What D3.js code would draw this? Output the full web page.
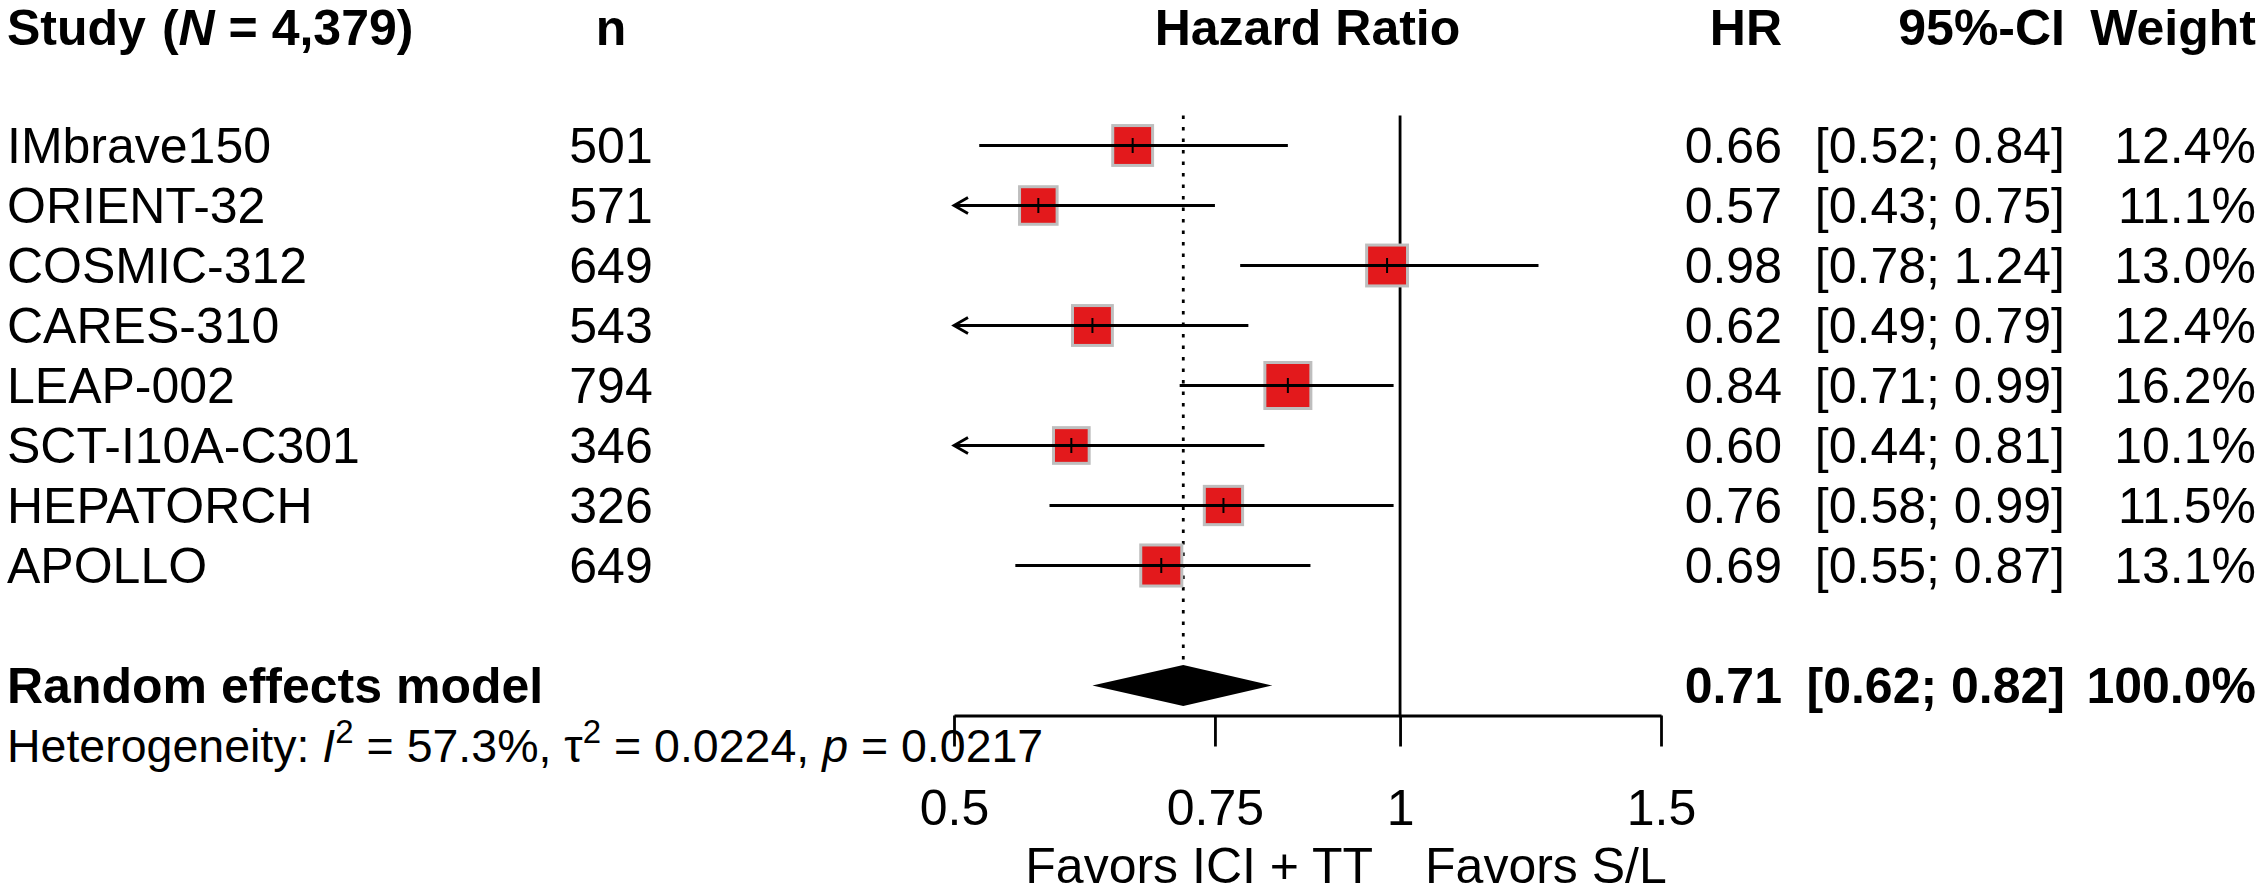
<!DOCTYPE html>
<html>
<head>
<meta charset="utf-8">
<script src="https://cdn.jsdelivr.net/npm/d3@7"></script>
<style>
  body { margin: 0; background: #fff; }
  svg { display: block; font-family: "Liberation Sans", Arial, sans-serif; }
  text { fill: #000; }
</style>
</head>
<body>
<div id="chart"></div>
<script>
// study level data
const studies = ['IMbrave150', 'ORIENT-32', 'COSMIC-312', 'CARES-310', 'LEAP-002', 'SCT-I10A-C301', 'HEPATORCH', 'APOLLO'];
const nPatients = [501, 571, 649, 543, 794, 346, 326, 649];
const hr = [0.66, 0.57, 0.98, 0.62, 0.84, 0.60, 0.76, 0.69];
const lower = [0.52, 0.43, 0.78, 0.49, 0.71, 0.44, 0.58, 0.55];
const upper = [0.84, 0.75, 1.24, 0.79, 0.99, 0.81, 0.99, 0.87];
const weights = [12.4, 11.1, 13.0, 12.4, 16.2, 10.1, 11.5, 13.1];

// pooled estimate
const pooled = {label: 'Random effects model', hr: 0.714, lower: 0.62, upper: 0.82, weight: 100.0};
const heterogeneity = {i2: '57.3%', tau2: '0.0224', p: '0.0217'};

const axisTicks = [0.5, 0.75, 1, 1.5];
const axisTickLabels = ['0.5', '0.75', '1', '1.5'];
const labelLeft = 'Favors ICI + TT';
const labelRight = 'Favors S/L';

const config = {
  width: 2262,
  height: 895,
  fontSize: 50,
  hetFontSize: 46.5,
  red: '#E3191C',
  border: '#BEBEBE',
  lw: 2.8
};

const svg = d3.select('#chart').append('svg')
    .attr('width', config.width)
    .attr('height', config.height);

const x = d3.scaleLog()
    .domain([0.5, 1.5])
    .range([954, 1661]);

// rows: -2 header, 0..7 studies, 9 pooled, 10 heterogeneity, 11 tick labels, 12 favors
const y = d3.scaleLinear()
    .domain([0, 12])
    .range([145.5, 865.5]);

const boxSize = d3.scaleSqrt()
    .domain([0, 16.2])
    .range([0, 49]);

const fmt2 = d3.format('.2f');
const fmtW = d3.format('.1f');

const cols = {study: 7, n: 611, hr: 1782, ci: 2065, weight: 2256};

function addText(txt, xPos, row, anchor, bold) {
  return svg.append('text')
      .attr('x', xPos)
      .attr('y', y(row))
      .attr('dy', '0.35em')
      .attr('text-anchor', anchor)
      .attr('font-size', config.fontSize)
      .attr('font-weight', bold ? 'bold' : 'normal')
      .text(txt);
}

// header
const studyHead = addText('', cols.study, -1.97, 'start', true);
studyHead.append('tspan').text('Study');
studyHead.append('tspan').attr('dx', 16).text('(');
studyHead.append('tspan').attr('font-style', 'italic').text('N');
studyHead.append('tspan').text(' = 4,379)');
addText('n', cols.n, -1.97, 'middle', true);
addText('Hazard Ratio', (x.range()[0] + x.range()[1]) / 2, -1.97, 'middle', true);
addText('HR', cols.hr, -1.97, 'end', true);
addText('95%-CI', cols.ci, -1.97, 'end', true);
addText('Weight', cols.weight, -1.97, 'end', true);

// study rows text
const rows = studies.map((s, i) => ({
  study: s, n: nPatients[i], hr: hr[i], lower: lower[i], upper: upper[i], weight: weights[i], row: i
}));

rows.forEach(d => {
  addText(d.study, cols.study, d.row, 'start', false);
  addText(d.n, cols.n, d.row, 'middle', false);
  addText(fmt2(d.hr), cols.hr, d.row, 'end', false);
  addText(`[${fmt2(d.lower)}; ${fmt2(d.upper)}]`, cols.ci, d.row, 'end', false);
  addText(fmtW(d.weight) + '%', cols.weight, d.row, 'end', false);
});

// pooled row text
addText(pooled.label, cols.study, 9, 'start', true);
addText(fmt2(pooled.hr), cols.hr, 9, 'end', true);
addText(`[${fmt2(pooled.lower)}; ${fmt2(pooled.upper)}]`, cols.ci, 9, 'end', true);
addText(fmtW(pooled.weight) + '%', cols.weight, 9, 'end', true);

// heterogeneity line
const supSize = 33, supRise = 19;
const het = addText('', cols.study, 10, 'start', false)
    .attr('font-size', config.hetFontSize);
het.append('tspan').text('Heterogeneity: ');
het.append('tspan').attr('font-style', 'italic').text('I');
het.append('tspan').attr('font-size', supSize).attr('dy', -supRise).text('2');
het.append('tspan').attr('dy', supRise).text(' = ' + heterogeneity.i2 + ', ');
het.append('tspan').text('\u03C4');
het.append('tspan').attr('font-size', supSize).attr('dy', -supRise).text('2');
het.append('tspan').attr('dy', supRise).text(' = ' + heterogeneity.tau2 + ', ');
het.append('tspan').attr('font-style', 'italic').text('p');
het.append('tspan').text(' = ' + heterogeneity.p);

// reference line at 1
svg.append('line')
    .attr('x1', x(1)).attr('x2', x(1))
    .attr('y1', y(-0.5)).attr('y2', y(9.5))
    .attr('stroke', '#000')
    .attr('stroke-width', config.lw);

// dotted line at pooled estimate
const diamondHalf = 20.5;
svg.append('line')
    .attr('x1', x(pooled.hr)).attr('x2', x(pooled.hr))
    .attr('y1', y(-0.5)).attr('y2', y(9) - diamondHalf)
    .attr('stroke', '#000')
    .attr('stroke-width', config.lw)
    .attr('stroke-dasharray', '3.5,8');

// squares
svg.selectAll('.box')
    .data(rows)
  .join('rect')
    .attr('class', 'box')
    .attr('x', d => x(d.hr) - boxSize(d.weight) / 2 + 1.5)
    .attr('y', d => y(d.row) - boxSize(d.weight) / 2 + 1.5)
    .attr('width', d => boxSize(d.weight) - 3)
    .attr('height', d => boxSize(d.weight) - 3)
    .attr('fill', config.red)
    .attr('stroke', config.border)
    .attr('stroke-width', 3);

// confidence intervals, clipped to the axis range with arrows
const xMin = x.domain()[0], xMax = x.domain()[1];
svg.selectAll('.ci')
    .data(rows)
  .join('line')
    .attr('class', 'ci')
    .attr('x1', d => x(Math.max(d.lower, xMin)))
    .attr('x2', d => x(Math.min(d.upper, xMax)))
    .attr('y1', d => y(d.row))
    .attr('y2', d => y(d.row))
    .attr('stroke', '#000')
    .attr('stroke-width', config.lw);

svg.selectAll('.arrow')
    .data(rows.filter(d => d.lower < xMin))
  .join('path')
    .attr('class', 'arrow')
    .attr('d', d => {
      const x0 = x(xMin), y0 = y(d.row);
      return `M${x0 + 14},${y0 - 8}L${x0},${y0}L${x0 + 14},${y0 + 8}`;
    })
    .attr('fill', 'none')
    .attr('stroke', '#000')
    .attr('stroke-width', config.lw);

// small tick at the estimate
svg.selectAll('.est')
    .data(rows)
  .join('line')
    .attr('class', 'est')
    .attr('x1', d => x(d.hr)).attr('x2', d => x(d.hr))
    .attr('y1', d => y(d.row) - 7.5).attr('y2', d => y(d.row) + 7.5)
    .attr('stroke', '#000')
    .attr('stroke-width', 2);

// diamond
const yp = y(9);
svg.append('path')
    .attr('d', `M${x(pooled.lower)},${yp}L${x(pooled.hr)},${yp - diamondHalf}L${x(pooled.upper)},${yp}L${x(pooled.hr)},${yp + diamondHalf}Z`)
    .attr('fill', '#000');

// x axis
const xAxis = d3.axisBottom(x)
    .tickValues(axisTicks)
    .tickFormat((d, i) => axisTickLabels[i])
    .tickSize(31)
    .tickSizeOuter(0)
    .tickPadding(43);

const axisG = svg.append('g')
    .attr('transform', `translate(0,${y(9.5)})`)
    .call(xAxis);

axisG.attr('font-size', config.fontSize)
    .attr('font-family', null);
axisG.select('.domain')
    .attr('stroke-width', config.lw);
axisG.selectAll('.tick line')
    .attr('stroke-width', config.lw);
axisG.selectAll('.tick text')
    .attr('fill', '#000');

// favors labels
addText(labelLeft, x(1) - 27, 12, 'end', false);
addText(labelRight, x(1) + 25, 12, 'start', false);
</script>
</body>
</html>
